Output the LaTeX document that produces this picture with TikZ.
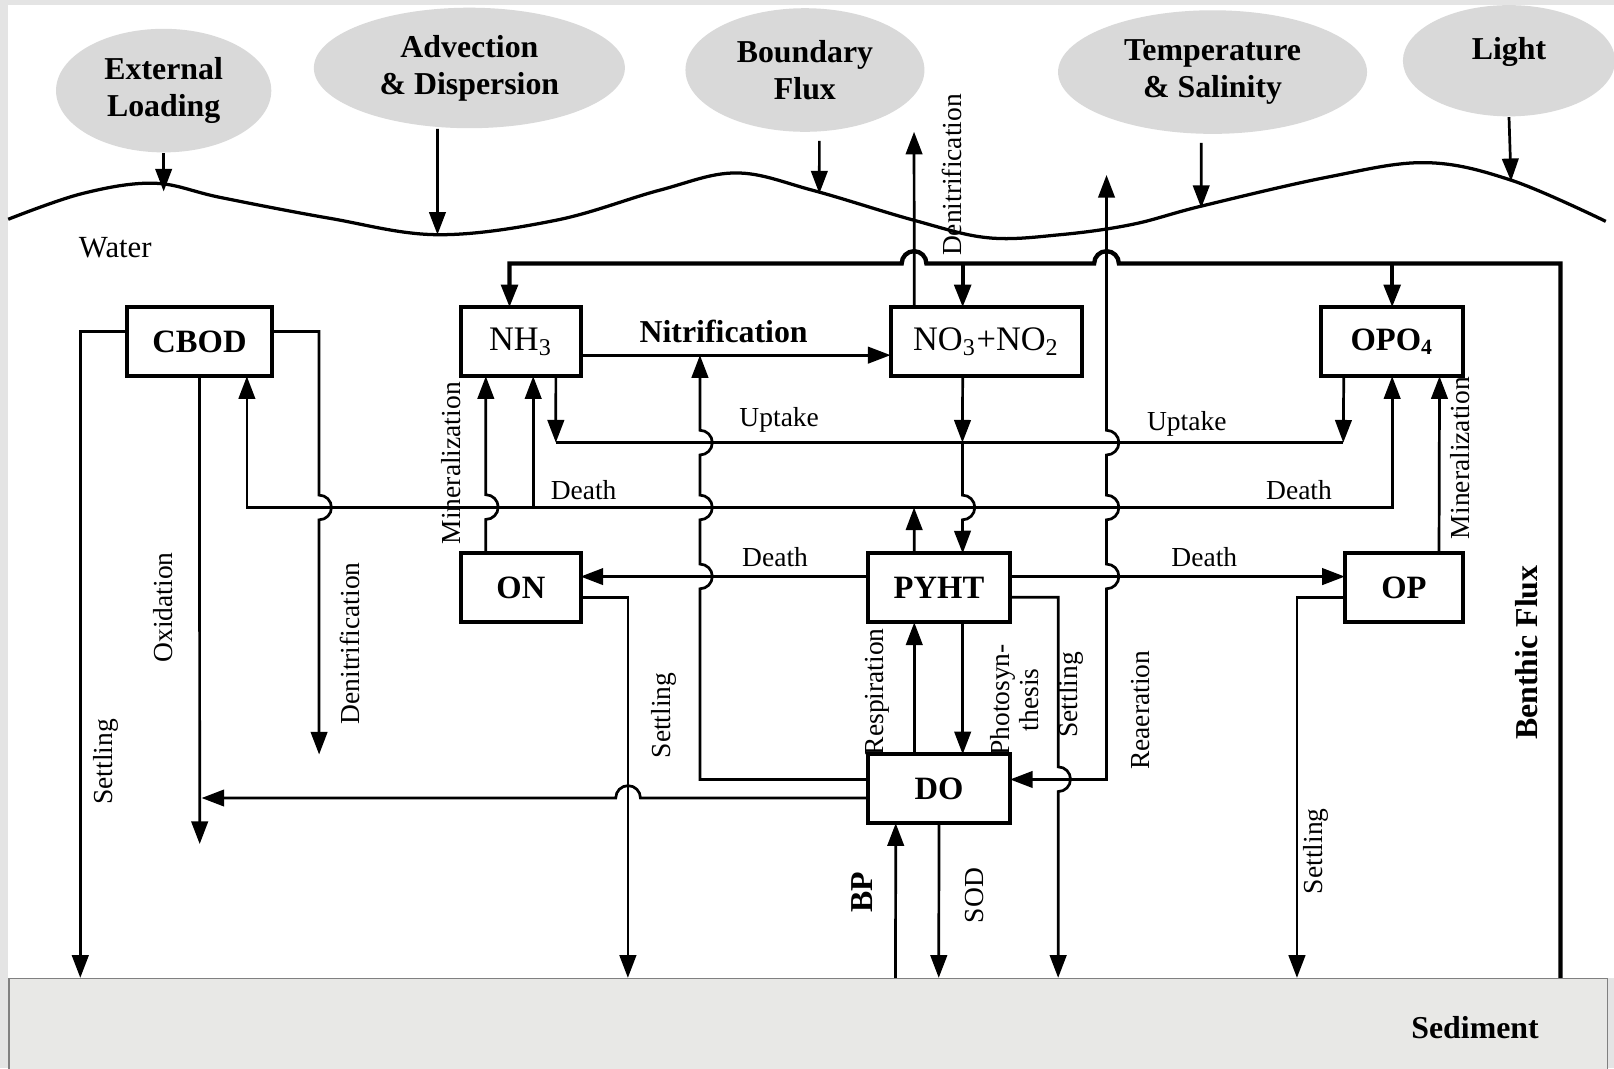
\documentclass[tikz,border=0pt]{standalone}
\usepackage{fontspec}
\setmainfont{Liberation Serif}
\usetikzlibrary{positioning,shapes.geometric,arrows.meta}

\definecolor{ellgray}{RGB}{217,217,217}
\definecolor{framegray}{RGB}{228,228,228}
\definecolor{sedgray}{RGB}{232,232,230}

\tikzset{
  box/.style={draw, line width=1.1pt, minimum height=0.67cm, inner sep=0pt, outer sep=0pt,
    font=\fontsize{9}{10}\selectfont\bfseries},
  driver/.style={ellipse, fill=ellgray, inner sep=0pt, align=center,
    font=\fontsize{8.8}{10.2}\selectfont\bfseries},
  flow/.style={line width=0.75pt},
  arr/.style={flow, -{Triangle[length=0.22cm,width=0.16cm]}},
  darr/.style={flow, {Triangle[length=0.22cm,width=0.16cm]}-{Triangle[length=0.22cm,width=0.16cm]}},
  flux/.style={line width=1.2pt},
  fluxarr/.style={flux, -{Triangle[length=0.22cm,width=0.16cm]}},
  lbl/.style={inner sep=0pt, font=\fontsize{7.6}{8}\selectfont},
  blbl/.style={inner sep=0pt, font=\fontsize{8.8}{10}\selectfont\bfseries},
  vlbl/.style={lbl, rotate=90, align=center},
}

\begin{document}
\begin{tikzpicture}[x=0.01cm, y=-0.01cm]
  % Frame
  \fill[framegray] (0,0) rectangle (1568,1038);
  \fill[white] (8,5) rectangle (1568,950);
  \useasboundingbox (0,0) rectangle (1568,1038);
  \node[draw=gray, fill=sedgray, anchor=north west, inner sep=0pt,
    minimum width=15.52cm, minimum height=0.88cm] (sed) at (8,950) {};
  \node[blbl] (sedtxt) at (1433,998) {Sediment};

  % Forcings
  \node[driver, minimum width=2.09cm, minimum height=1.20cm] (ext) at (159,88) {External\\Loading};
  \node[driver, minimum width=3.02cm, minimum height=1.17cm] (adv) at (456,66) {Advection\\\& Dispersion};
  \node[driver, minimum width=2.32cm, minimum height=1.20cm] (bnd) at (782,68) {Boundary\\Flux};
  \node[driver, minimum width=3.00cm, minimum height=1.20cm] (tmp) at (1178,70) {Temperature\\\& Salinity};
  \node[driver, minimum width=2.06cm, minimum height=1.08cm, text depth=0.23cm] (lgt) at (1466,59) {Light};

  % Water surface
  \draw[line width=0.9pt] plot[smooth, tension=0.6] coordinates {(8,213) (80,188) (150,178)
    (215,192) (320,212) (425,228) (540,214) (640,185) (715,168) (790,185) (888,214)
    (960,231) (1030,228) (1100,218) (1168,200) (1290,172) (1385,158) (1468,175) (1560,215)};
  \node[lbl, font=\fontsize{8.5}{9}\selectfont] (water) at (112,241) {Water};

  % Nodes
  \node[box, minimum width=1.16cm, font=\fontsize{9.5}{10}\selectfont] (NH3) at (506,332) {NH\textsubscript{3}};
  \node[box, minimum width=1.40cm, left=1.84cm of NH3] (CBOD) {CBOD};
  \node[box, minimum width=1.86cm, right=3.01cm of NH3, font=\fontsize{9.5}{10}\selectfont] (NO3) {NO\textsubscript{3}+NO\textsubscript{2}};
  \node[box, minimum width=1.38cm, right=2.32cm of NO3] (OPO4) {OPO\textsubscript{4}};
  \node[box, minimum width=1.16cm, below=1.72cm of NH3] (ON) {ON};
  \node[box, minimum width=1.38cm, right=2.79cm of ON] (PYHT) {PYHT};
  \node[box, minimum width=1.15cm, right=3.25cm of PYHT] (OP) {OP};
  \node[box, minimum width=1.38cm, below=1.28cm of PYHT] (DO) {DO};

  % Coordinates
  \coordinate (wExt) at (159,186);
  \coordinate (wAdv) at (425,228);
  \coordinate (wBnd) at (796,188);
  \coordinate (wTmp) at (1167,202);
  \coordinate (wLgt) at (1468,176);
  \coordinate (denTop) at (888,128);
  \coordinate (reaTop) at (1075,170);
  \coordinate (bfTop) at (1516,256);
  \coordinate (dth) at (888,493);
  \coordinate (upL) at (540,430);
  \coordinate (upM) at (935,430);
  \coordinate (upR) at (1305,430);
  \coordinate (nit) at (680,345);
  \coordinate (oxi) at ([yshift=-0.09cm,xshift=0.02cm]DO.west -| CBOD.south);
  \coordinate (cbDen) at (310,733);
  \coordinate (cbOx) at (194,820);
  \coordinate (sCB) at (78,950);
  \coordinate (sON) at (610,950);
  \coordinate (sBP) at (870,950);
  \coordinate (sSOD) at (912,950);
  \coordinate (sPY) at (1028,950);
  \coordinate (sOP) at (1260,950);
  \coordinate (sBF) at (1516,950);

  % Forcing arrows
  \draw[arr] (ext) -- (wExt);
  \draw[arr] ([xshift=-0.31cm]adv.south) -- (wAdv);
  \draw[arr] ([xshift=0.14cm,yshift=-0.08cm]bnd.south) -- (wBnd);
  \draw[arr] ([xshift=-0.11cm,yshift=-0.08cm]tmp.south) -- (wTmp);
  \draw[arr] (lgt.south) -- (wLgt);

  % Benthic flux
  \draw[fluxarr] (sBF) -- (bfTop) -- (1087,256) arc[start angle=0, end angle=180, radius=0.12cm]
    -- (900,256) arc[start angle=0, end angle=180, radius=0.12cm] -| ([xshift=-0.11cm]NH3.north);
  \draw[fluxarr] ([xshift=-0.23cm]NO3.north |- bfTop) -- ([xshift=-0.23cm]NO3.north);
  \draw[fluxarr] (OPO4.north |- bfTop) -- (OPO4.north);
  \node[blbl, rotate=90] (bflbl) at (1483,634) {Benthic Flux};

  % CBOD
  \draw[arr] ([yshift=0.1cm]CBOD.west) -| (sCB);
  \draw[arr] ([yshift=0.1cm]CBOD.east) -| (310,481) arc[start angle=90, end angle=-90, radius=0.12cm] -- (cbDen);
  \draw[arr] (CBOD.south) -- (cbOx);
  \node[vlbl] (l1) at (103,740) {Settling};
  \node[vlbl] (l2) at (158,590) {Oxidation};
  \node[vlbl] (l3) at (340,625) {Denitrification};

  % Nitrogen
  \draw[arr] ([yshift=-0.13cm]NH3.east) -- ([yshift=-0.13cm]NO3.west);
  \node[blbl] (l4) at (703,322) {Nitrification};
  \draw[arr] ([xshift=-0.70cm]NO3.north) -- (denTop);
  \node[vlbl] (l5) at (925,170) {Denitrification};
  \draw[arr] ([xshift=-0.34cm]ON.north) -- ++(0,-33) arc[start angle=-90, end angle=90, radius=0.12cm]
    -- ([xshift=-0.34cm]NH3.south);
  \node[vlbl] (l6) at (438,450) {Mineralization};
  \draw[arr] ([yshift=-0.09cm]ON.east) -| (sON);
  \node[vlbl] (l7) at (645,695) {Settling};

  % Uptake
  \draw[flow] (upL) -- (upR);
  \draw[arr] ([xshift=0.34cm]NH3.south) -- (upL);
  \draw[arr] ([xshift=-0.23cm]NO3.south) -- (upM);
  \draw[arr] ([xshift=-0.47cm]OPO4.south) -- (upR);
  \draw[arr] (upM) -- ++(0,51) arc[start angle=90, end angle=-90, radius=0.12cm] -- ([xshift=0.23cm]PYHT.north);
  \node[lbl] (l8) at (757,408) {Uptake};
  \node[lbl] (l9) at (1153,412) {Uptake};

  % Death
  \draw[arr] ([xshift=-0.24cm]PYHT.north) -- (dth);
  \draw[arr] (dth) -| ([xshift=0.46cm]CBOD.south);
  \draw[arr] (dth) -| (OPO4.south);
  \draw[arr] ([xshift=0.12cm]NH3.south |- dth) -- ([xshift=0.12cm]NH3.south);
  \draw[arr] ([yshift=0.11cm]PYHT.west) -- ([yshift=0.11cm]ON.east);
  \draw[arr] ([yshift=0.11cm]PYHT.east) -- ([yshift=0.11cm]OP.west);
  \node[lbl] (l10) at (567,476) {Death};
  \node[lbl] (l11) at (1262,476) {Death};
  \node[lbl] (l12) at (753,541) {Death};
  \node[lbl] (l13) at (1170,541) {Death};

  % Phosphorus
  \draw[arr] ([xshift=0.34cm]OP.north) -- ([xshift=0.46cm]OPO4.south);
  \node[vlbl] (l14) at (1418,445) {Mineralization};
  \draw[arr] ([yshift=-0.09cm]OP.west) -| (sOP);
  \node[vlbl] (l15) at (1278,827) {Settling};

  % Oxygen
  \draw[arr] ([xshift=-0.24cm]DO.north) -- ([xshift=-0.24cm]PYHT.south);
  \draw[arr] ([xshift=0.23cm]PYHT.south) -- ([xshift=0.23cm]DO.north);
  \node[vlbl] (l16) at (852,672) {Respiration};
  \node[vlbl] (l17) at (986,680) {Photosyn-\\thesis};
  \draw[arr] ([yshift=-0.09cm]PYHT.east) -| (1028,745) arc[start angle=90, end angle=-90, radius=0.12cm] -- (sPY);
  \node[vlbl] (l18) at (1040,675) {Settling};
  \draw[darr] (reaTop) -- (1075,418) arc[start angle=90, end angle=-90, radius=0.12cm]
    -- (1075,481) arc[start angle=90, end angle=-90, radius=0.12cm]
    -- (1075,548) arc[start angle=90, end angle=-90, radius=0.12cm] |- ([yshift=0.09cm]DO.east);
  \node[vlbl] (l19) at (1108,690) {Reaeration};
  \draw[arr] ([yshift=0.09cm]DO.west) -| (680,572) arc[start angle=-90, end angle=90, radius=0.12cm]
    -- (680,505) arc[start angle=-90, end angle=90, radius=0.12cm]
    -- (680,442) arc[start angle=-90, end angle=90, radius=0.12cm] -- (nit);
  \draw[arr] ([yshift=-0.09cm]DO.west) -- ++(-221,0) arc[start angle=0, end angle=180, radius=0.12cm] -- (oxi);
  \draw[arr] (sBP) -- ([xshift=-0.42cm]DO.south);
  \draw[arr] (DO.south) -- (sSOD);
  \node[vlbl, font=\fontsize{8.8}{10}\selectfont\bfseries] (l20) at (838,867) {BP};
  \node[vlbl] (l21) at (947,870) {SOD};
\end{tikzpicture}
\end{document}
